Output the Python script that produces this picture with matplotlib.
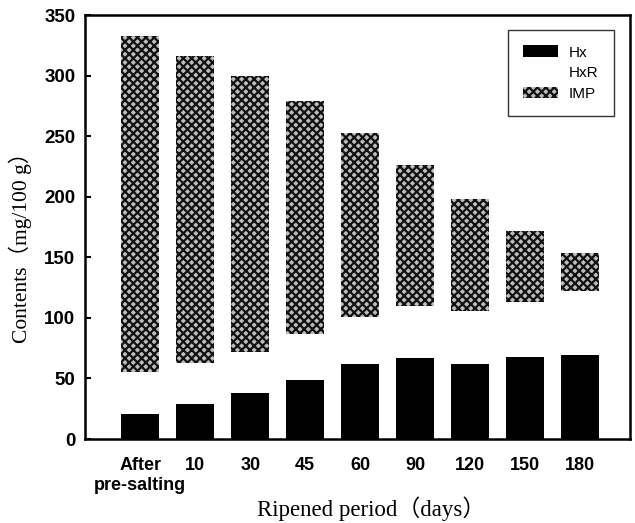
import matplotlib
matplotlib.use("Agg")
import matplotlib.pyplot as plt
from matplotlib.patches import Patch
import numpy as np

categories = ["After\npre-salting", "10", "30", "45", "60", "90", "120", "150", "180"]
hx = [21, 29, 38, 49, 62, 67, 62, 68, 69]
hxr = [34, 34, 34, 38, 39, 43, 44, 45, 53]
imp = [278, 253, 228, 192, 152, 116, 92, 59, 32]
series_names = ["Hx", "HxR", "IMP"]
yticks = [0, 50, 100, 150, 200, 250, 300, 350]

plt.rcParams['hatch.linewidth'] = 1.6
fig = plt.figure(figsize=(6.35, 5.23), dpi=100)
ax = fig.add_axes([0.134, 0.1606, 0.858, 0.8104])

x = np.arange(len(categories))
w = 0.69
hx_a = np.array(hx)
hxr_a = np.array(hxr)
imp_a = np.array(imp)

imp_face = "#bdbdbd"
imp_hatch = "#111111"
ax.bar(x, hx_a, w, color="black", linewidth=0, label=series_names[0])
ax.bar(x, hxr_a, w, bottom=hx_a, color="white", linewidth=0, label=series_names[1])
ax.bar(x, imp_a, w, bottom=hx_a + hxr_a, facecolor=imp_face, edgecolor=imp_hatch,
       linewidth=0, hatch="xxxx", label=series_names[2])

ax.set_xlim(-1, 8.9)
ax.set_ylim(0, 350)
ax.set_yticks(yticks)
ax.set_yticklabels([str(t) for t in yticks], fontfamily="Liberation Sans",
                   fontweight="bold", fontsize=13.5)
ax.tick_params(axis="y", direction="in", length=4, width=1.5, pad=7)
ax.set_xticks(x)
ax.set_xticklabels(categories, fontfamily="Liberation Sans", fontweight="bold",
                   fontsize=13, va="top", linespacing=1.2)
ax.tick_params(axis="x", length=0, pad=13)
for s in ax.spines.values():
    s.set_linewidth(1.8)

serif = ["Liberation Serif", "Noto Sans CJK JP"]
ax.set_xlabel("Ripened period\uff08days\uff09", fontfamily=serif, fontsize=16.5)
ax.set_ylabel("Contents\uff08mg/100 g\uff09", fontfamily=serif, fontsize=15.5)
ax.xaxis.set_label_coords(0.525, -0.135)
ax.yaxis.set_label_coords(-0.097, 0.465)

handles = [Patch(facecolor="black", edgecolor="black", linewidth=0),
           Patch(facecolor="white", edgecolor="white", linewidth=0),
           Patch(facecolor=imp_face, edgecolor=imp_hatch, hatch="xxxx", linewidth=0)]
leg = ax.legend(handles, series_names, loc="upper right", bbox_to_anchor=(0.9706, 0.9646),
                borderaxespad=0,
                prop={"family": ["Liberation Sans Narrow", "Liberation Sans"], "size": 11},
                frameon=True, fancybox=False, edgecolor="black", handlelength=2.3,
                handleheight=0.8, borderpad=1.0, labelspacing=0.42, handletextpad=0.7)
leg.get_frame().set_linewidth(1.0)

fig.savefig("out.png", dpi=100)
